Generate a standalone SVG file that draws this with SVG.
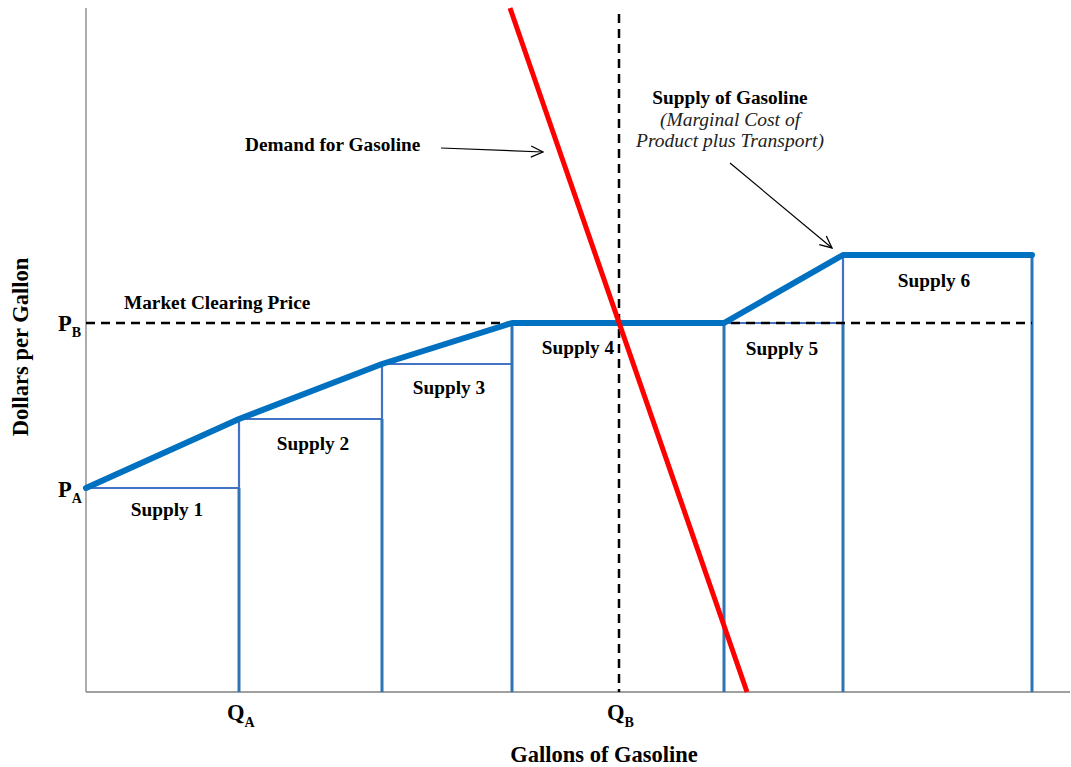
<svg xmlns="http://www.w3.org/2000/svg" width="1071" height="767" viewBox="0 0 1071 767">
<defs>
<style>
.t{font-family:"Liberation Serif","Times New Roman",serif;font-weight:bold;font-size:19.3px;fill:#000}
.i{font-family:"Liberation Serif","Times New Roman",serif;font-style:italic;font-size:19.5px;fill:#222}
.big{font-size:22.5px}
.sub{font-size:14px}
.ax{stroke:#808080;stroke-width:1.3;fill:none}
.bar{stroke:#2E75B6;stroke-width:3;fill:none}
.thin{stroke:#4472C4;stroke-width:2.2;fill:none}
.sup{stroke:#0070C0;stroke-width:6;fill:none;stroke-linejoin:round;stroke-linecap:round}
.dash{stroke:#000;stroke-width:2.5;stroke-dasharray:9,6;fill:none}
.dem{stroke:#FF0000;stroke-width:5;fill:none}
.arr{stroke:#000;stroke-width:1.2;fill:none;marker-end:url(#ah)}
</style>
<marker id="ah" viewBox="0 0 14 14" refX="13" refY="7" markerWidth="14" markerHeight="14" markerUnits="userSpaceOnUse" orient="auto">
<path d="M1,1.5 L13,7 L1,12.5" fill="none" stroke="#000" stroke-width="1.3"/>
</marker>
</defs>
<rect width="1071" height="767" fill="#fff"/>
<g id="axes">
<line class="ax" x1="86" y1="8" x2="86" y2="692"/>
<line class="ax" x1="86" y1="692" x2="1070" y2="692"/>
</g>
<g id="supply-blocks">
<line class="thin" x1="86" y1="488" x2="239" y2="488"/>
<line class="thin" x1="239" y1="419" x2="382" y2="419"/>
<line class="thin" x1="382" y1="364" x2="512" y2="364"/>
<line class="thin" x1="724" y1="323" x2="843" y2="323"/>
<line class="thin" x1="239" y1="419" x2="239" y2="488"/>
<line class="thin" x1="382" y1="364" x2="382" y2="419"/>
<line class="thin" x1="843" y1="255" x2="843" y2="323"/>
<line class="bar" x1="239" y1="488" x2="239" y2="692"/>
<line class="bar" x1="382" y1="419" x2="382" y2="692"/>
<line class="bar" x1="512" y1="323" x2="512" y2="692"/>
<line class="bar" x1="724" y1="323" x2="724" y2="692"/>
<line class="bar" x1="843" y1="323" x2="843" y2="692"/>
<line class="bar" x1="1032" y1="255" x2="1032" y2="692"/>
</g>
<g id="connectors">
<line class="dash" x1="86" y1="323" x2="1032" y2="323"/>
<line class="dash" x1="619" y1="14" x2="619" y2="692"/>
<polyline class="sup" points="86,488 239,419 382,364 512,323 724,323 843,255 1032,255"/>
<line class="dem" x1="510" y1="8" x2="747" y2="692"/>
<line class="arr" x1="441" y1="148" x2="543" y2="152"/>
<line class="arr" x1="730" y1="163" x2="832" y2="248"/>
</g>
<g id="labels">
<text class="t" x="245" y="151">Demand for Gasoline</text>
<text class="t" x="730" y="104" text-anchor="middle">Supply of Gasoline</text>
<text class="i" x="730" y="126" text-anchor="middle">(Marginal Cost of</text>
<text class="i" x="730" y="147" text-anchor="middle">Product plus Transport)</text>
<text class="t" x="124" y="309">Market Clearing Price</text>
<text class="t" x="167" y="516" text-anchor="middle">Supply 1</text>
<text class="t" x="313" y="450" text-anchor="middle">Supply 2</text>
<text class="t" x="449" y="394" text-anchor="middle">Supply 3</text>
<text class="t" x="578" y="354" text-anchor="middle">Supply 4</text>
<text class="t" x="782" y="355" text-anchor="middle">Supply 5</text>
<text class="t" x="934" y="287" text-anchor="middle">Supply 6</text>
<text class="t big" x="58" y="331">P<tspan class="sub" dy="6">B</tspan></text>
<text class="t big" x="58" y="497">P<tspan class="sub" dy="6">A</tspan></text>
<text class="t big" x="227" y="720">Q<tspan class="sub" dy="7">A</tspan></text>
<text class="t big" x="607" y="720">Q<tspan class="sub" dy="7">B</tspan></text>
<text class="t big" x="604" y="762" text-anchor="middle">Gallons of Gasoline</text>
<text class="t big" x="0" y="0" text-anchor="middle" transform="translate(28,347) rotate(-90)">Dollars per Gallon</text>
</g>
</svg>
